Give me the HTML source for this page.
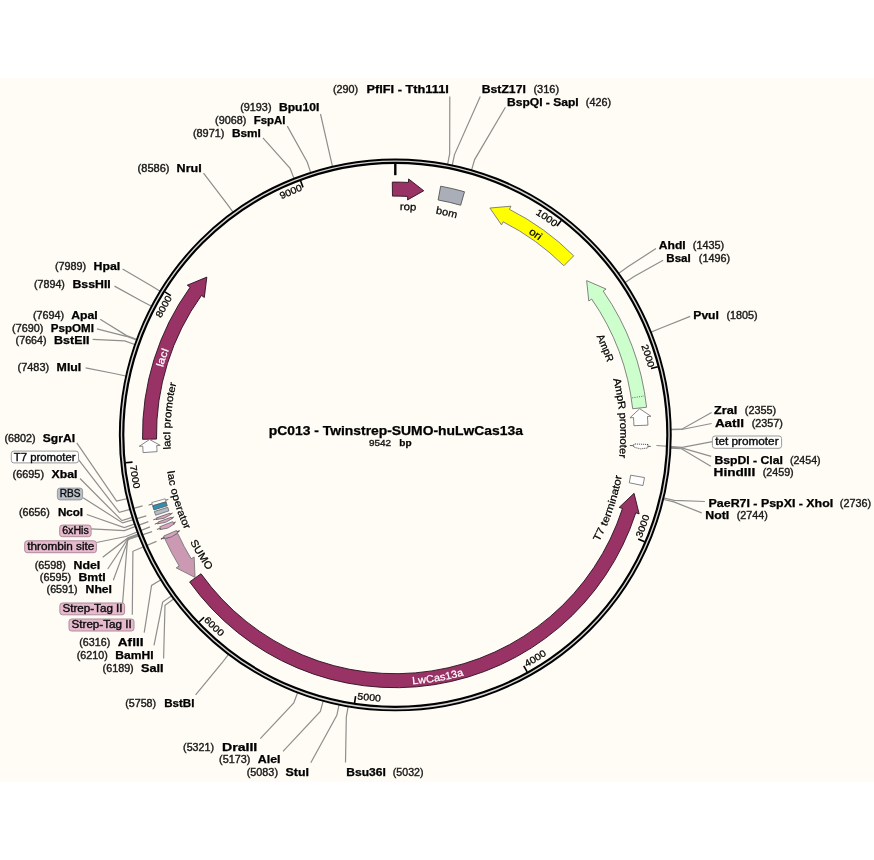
<!DOCTYPE html>
<html><head><meta charset="utf-8"><title>pC013 - Twinstrep-SUMO-huLwCas13a</title>
<style>html,body{margin:0;padding:0;background:#fff;}svg{display:block;will-change:transform;}text{font-family:"Liberation Sans",sans-serif;}</style></head><body>
<svg width="874" height="860" viewBox="0 0 874 860">
<rect x="0" y="0" width="874" height="860" fill="#ffffff"/>
<rect x="0" y="78" width="874" height="704" fill="#fefcf4"/>
<path d="M449.8 96.4 L449.68 153.61 L447.49 164.9" fill="none" stroke="#8e8e8e" stroke-width="1.2" />
<path d="M320.5 114 L330.04 155.93 L332.66 167.13" fill="none" stroke="#8e8e8e" stroke-width="1.2" />
<path d="M287.3 126.1 L307.32 162.24 L310.85 173.19" fill="none" stroke="#8e8e8e" stroke-width="1.2" />
<path d="M262.9 137.9 L290.1 168.41 L294.32 179.11" fill="none" stroke="#8e8e8e" stroke-width="1.2" />
<path d="M203.5 173.2 L226.62 203.32 L233.4 212.61" fill="none" stroke="#8e8e8e" stroke-width="1.2" />
<path d="M122.6 268.9 L150.78 285.59 L160.59 291.59" fill="none" stroke="#8e8e8e" stroke-width="1.2" />
<path d="M114.5 286.1 L141.92 301.17 L152.09 306.54" fill="none" stroke="#8e8e8e" stroke-width="1.2" />
<path d="M100.2 319.3 L126.56 335.6 L137.35 339.59" fill="none" stroke="#8e8e8e" stroke-width="1.2" />
<path d="M96.9 328.8 L126.3 336.31 L137.1 340.27" fill="none" stroke="#8e8e8e" stroke-width="1.2" />
<path d="M92.6 339.4 L124.65 340.93 L135.51 344.7" fill="none" stroke="#8e8e8e" stroke-width="1.2" />
<path d="M85.6 367.9 L115.4 373.78 L126.63 376.23" fill="none" stroke="#8e8e8e" stroke-width="1.2" />
<path d="M76.8 442.8 L116.57 501.17 L127.76 498.51" fill="none" stroke="#8e8e8e" stroke-width="1.2" />
<path d="M80 478.5 L121.93 520.63 L132.9 517.19" fill="none" stroke="#8e8e8e" stroke-width="1.2" />
<path d="M86.8 514.5 L124.22 527.62 L135.1 523.9" fill="none" stroke="#8e8e8e" stroke-width="1.2" />
<path d="M102.7 557.2 L127.96 537.9 L138.69 533.77" fill="none" stroke="#8e8e8e" stroke-width="1.2" />
<path d="M107.7 569 L128.16 538.43 L138.88 534.28" fill="none" stroke="#8e8e8e" stroke-width="1.2" />
<path d="M113.3 580.3 L128.43 539.14 L139.15 534.95" fill="none" stroke="#8e8e8e" stroke-width="1.2" />
<path d="M144.2 632.7 L151.57 585.49 L161.35 579.45" fill="none" stroke="#8e8e8e" stroke-width="1.2" />
<path d="M154 645.3 L162.67 602.12 L172 595.41" fill="none" stroke="#8e8e8e" stroke-width="1.2" />
<path d="M163.6 658.4 L165 605.32 L174.24 598.48" fill="none" stroke="#8e8e8e" stroke-width="1.2" />
<path d="M195.6 694.9 L221.93 662.99 L228.89 653.84" fill="none" stroke="#8e8e8e" stroke-width="1.2" />
<path d="M260.3 738.7 L293.79 702.82 L297.87 692.06" fill="none" stroke="#8e8e8e" stroke-width="1.2" />
<path d="M283 751.3 L320.34 711.42 L323.35 700.32" fill="none" stroke="#8e8e8e" stroke-width="1.2" />
<path d="M310.8 762.8 L336.85 715.38 L339.2 704.12" fill="none" stroke="#8e8e8e" stroke-width="1.2" />
<path d="M480.3 96.4 L454.49 154.58 L452.11 165.83" fill="none" stroke="#8e8e8e" stroke-width="1.2" />
<path d="M505.4 107.2 L474.62 159.6 L471.43 170.65" fill="none" stroke="#8e8e8e" stroke-width="1.2" />
<path d="M656 248.5 L627.49 267.06 L618.17 273.8" fill="none" stroke="#8e8e8e" stroke-width="1.2" />
<path d="M663.1 260.3 L634.05 276.52 L624.46 282.88" fill="none" stroke="#8e8e8e" stroke-width="1.2" />
<path d="M690.2 316.4 L661.12 328.03 L650.45 332.32" fill="none" stroke="#8e8e8e" stroke-width="1.2" />
<path d="M711.6 412.5 L681.74 429.15 L670.24 429.38" fill="none" stroke="#8e8e8e" stroke-width="1.2" />
<path d="M711.6 423.5 L681.75 429.52 L670.25 429.74" fill="none" stroke="#8e8e8e" stroke-width="1.2" />
<path d="M711.2 456.3 L681.51 447.82 L670.02 447.3" fill="none" stroke="#8e8e8e" stroke-width="1.2" />
<path d="M710.8 466.2 L681.46 448.76 L669.98 448.2" fill="none" stroke="#8e8e8e" stroke-width="1.2" />
<path d="M704.9 501.5 L674.2 500.44 L663.01 497.81" fill="none" stroke="#8e8e8e" stroke-width="1.2" />
<path d="M701.7 512.9 L673.85 501.91 L662.67 499.22" fill="none" stroke="#8e8e8e" stroke-width="1.2" />
<path d="M345.5 762.6 L346.3 717.18 L348.27 705.85" fill="none" stroke="#8e8e8e" stroke-width="1.2" />
<path d="M78.5 459.7 L119.3 512.4 L142.6 505.9" fill="none" stroke="#8e8e8e" stroke-width="1.2" />
<path d="M83.1 497.7 L122.6 522.9 L146.3 515.9" fill="none" stroke="#8e8e8e" stroke-width="1.2" />
<path d="M91.1 528.9 L124.4 530.6 L148.4 521.6" fill="none" stroke="#8e8e8e" stroke-width="1.2" />
<path d="M96.4 542.5 L125.9 536.5 L150 526.9" fill="none" stroke="#8e8e8e" stroke-width="1.2" />
<path d="M122.6 603 L127.5 539.6 L152.1 531.6" fill="none" stroke="#8e8e8e" stroke-width="1.2" />
<path d="M132.3 614.8 L132.9 551.3 L156.5 541.4" fill="none" stroke="#8e8e8e" stroke-width="1.2" />
<path d="M712.4 441.6 L682.3 447.4 L656.4 445.5" fill="none" stroke="#8e8e8e" stroke-width="1.2" />
<circle cx="395.3" cy="434.9" r="273.7" fill="none" stroke="#000" stroke-width="5.5"/>
<circle cx="395.3" cy="434.9" r="273.8" fill="none" stroke="#d4d4d4" stroke-width="1.4"/>
<path d="M561.25 220.4 L556.97 225.94" fill="none" stroke="#000" stroke-width="1.6" />
<path d="M657.81 366.79 L651.03 368.55" fill="none" stroke="#000" stroke-width="1.6" />
<path d="M644.6 541.67 L638.16 538.91" fill="none" stroke="#000" stroke-width="1.6" />
<path d="M527.15 671.89 L523.74 665.78" fill="none" stroke="#000" stroke-width="1.6" />
<path d="M354.56 703.02 L355.61 696.1" fill="none" stroke="#000" stroke-width="1.6" />
<path d="M199.01 622.04 L204.08 617.21" fill="none" stroke="#000" stroke-width="1.6" />
<path d="M125.54 462.8 L132.5 462.08" fill="none" stroke="#000" stroke-width="1.6" />
<path d="M164.87 291.89 L170.82 295.59" fill="none" stroke="#000" stroke-width="1.6" />
<path d="M300.55 180.79 L303 187.35" fill="none" stroke="#000" stroke-width="1.6" />
<path d="M395.3 163.7 L395.3 175.2" fill="none" stroke="#000" stroke-width="2.4" />
<g font-size="9.5" fill="#000" stroke="#000" stroke-width="0.25">
<text transform="translate(537.82 215.53) rotate(33.01) scale(1.11 1)" text-anchor="middle">1</text>
<text transform="translate(542.62 218.73) rotate(34.27) scale(1.11 1)" text-anchor="middle">0</text>
<text transform="translate(547.36 222.03) rotate(35.54) scale(1.11 1)" text-anchor="middle">0</text>
<text transform="translate(552.02 225.44) rotate(36.8) scale(1.11 1)" text-anchor="middle">0</text>
</g>
<g font-size="9.5" fill="#000" stroke="#000" stroke-width="0.25">
<text transform="translate(642.26 348.6) rotate(70.74) scale(1.11 1)" text-anchor="middle">2</text>
<text transform="translate(644.1 354.07) rotate(72) scale(1.11 1)" text-anchor="middle">0</text>
<text transform="translate(645.82 359.58) rotate(73.27) scale(1.11 1)" text-anchor="middle">0</text>
<text transform="translate(647.42 365.13) rotate(74.53) scale(1.11 1)" text-anchor="middle">0</text>
</g>
<g font-size="9.5" fill="#000" stroke="#000" stroke-width="0.25">
<text transform="translate(642.61 535.52) rotate(292.14) scale(1.11 1)" text-anchor="middle">3</text>
<text transform="translate(644.79 530.01) rotate(290.87) scale(1.11 1)" text-anchor="middle">0</text>
<text transform="translate(646.84 524.45) rotate(289.6) scale(1.11 1)" text-anchor="middle">0</text>
<text transform="translate(648.76 518.84) rotate(288.32) scale(1.11 1)" text-anchor="middle">0</text>
</g>
<g font-size="9.5" fill="#000" stroke="#000" stroke-width="0.25">
<text transform="translate(529.34 665.82) rotate(329.87) scale(1.11 1)" text-anchor="middle">4</text>
<text transform="translate(534.43 662.79) rotate(328.6) scale(1.11 1)" text-anchor="middle">0</text>
<text transform="translate(539.45 659.64) rotate(327.32) scale(1.11 1)" text-anchor="middle">0</text>
<text transform="translate(544.4 656.39) rotate(326.05) scale(1.11 1)" text-anchor="middle">0</text>
</g>
<g font-size="9.5" fill="#000" stroke="#000" stroke-width="0.25">
<text transform="translate(360.01 699.56) rotate(367.59) scale(1.11 1)" text-anchor="middle">5</text>
<text transform="translate(365.89 700.28) rotate(366.32) scale(1.11 1)" text-anchor="middle">0</text>
<text transform="translate(371.79 700.86) rotate(365.05) scale(1.11 1)" text-anchor="middle">0</text>
<text transform="translate(377.7 701.32) rotate(363.78) scale(1.11 1)" text-anchor="middle">0</text>
</g>
<g font-size="9.5" fill="#000" stroke="#000" stroke-width="0.25">
<text transform="translate(205.44 622.63) rotate(405.32) scale(1.11 1)" text-anchor="middle">6</text>
<text transform="translate(209.65 626.8) rotate(404.05) scale(1.11 1)" text-anchor="middle">0</text>
<text transform="translate(213.96 630.87) rotate(402.78) scale(1.11 1)" text-anchor="middle">0</text>
<text transform="translate(218.35 634.85) rotate(401.51) scale(1.11 1)" text-anchor="middle">0</text>
</g>
<g font-size="9.5" fill="#000" stroke="#000" stroke-width="0.25">
<text transform="translate(130.44 468.62) rotate(442.74) scale(1.11 1)" text-anchor="middle">7</text>
<text transform="translate(131.25 474.49) rotate(441.47) scale(1.11 1)" text-anchor="middle">0</text>
<text transform="translate(132.2 480.34) rotate(440.2) scale(1.11 1)" text-anchor="middle">0</text>
<text transform="translate(133.27 486.17) rotate(438.93) scale(1.11 1)" text-anchor="middle">0</text>
</g>
<g font-size="9.5" fill="#000" stroke="#000" stroke-width="0.25">
<text transform="translate(162.43 315.71) rotate(297.11) scale(1.11 1)" text-anchor="middle">8</text>
<text transform="translate(165.12 310.6) rotate(298.37) scale(1.11 1)" text-anchor="middle">0</text>
<text transform="translate(167.92 305.55) rotate(299.63) scale(1.11 1)" text-anchor="middle">0</text>
<text transform="translate(170.83 300.56) rotate(300.9) scale(1.11 1)" text-anchor="middle">0</text>
</g>
<g font-size="9.5" fill="#000" stroke="#000" stroke-width="0.25">
<text transform="translate(284.05 198.13) rotate(334.83) scale(1.11 1)" text-anchor="middle">9</text>
<text transform="translate(289.31 195.73) rotate(336.1) scale(1.11 1)" text-anchor="middle">0</text>
<text transform="translate(294.61 193.45) rotate(337.36) scale(1.11 1)" text-anchor="middle">0</text>
<text transform="translate(299.97 191.29) rotate(338.63) scale(1.11 1)" text-anchor="middle">0</text>
</g>
<path d="M189.64 581.91 A252.8 252.8 0 0 0 635.8 512.8 L639.13 513.88 L634.05 493.33 L619.15 507.41 L622.48 508.49 A238.8 238.8 0 0 1 201.03 573.77 Z" fill="#993366" stroke="#2a1020" stroke-width="0.9" stroke-linejoin="miter" />
<path d="M142.54 439.31 A252.8 252.8 0 0 1 190.11 287.24 L187.27 285.2 L206.83 277.12 L204.31 297.46 L201.47 295.42 A238.8 238.8 0 0 0 156.54 439.07 Z" fill="#993366" stroke="#2a1020" stroke-width="0.9" stroke-linejoin="miter" />
<path d="M392.3 182.12 A252.8 252.8 0 0 1 408.44 182.44 L408.63 178.95 L423.72 190.75 L407.53 199.92 L407.72 196.42 A238.8 238.8 0 0 0 392.47 196.12 Z" fill="#993366" stroke="#2a1020" stroke-width="0.9" stroke-linejoin="miter" />
<path d="M440.66 186.2 A252.8 252.8 0 0 1 464.49 191.75 L460.66 205.22 A238.8 238.8 0 0 0 438.15 199.98 Z" fill="#a9aeb9" stroke="#555" stroke-width="0.9" />
<path d="M573.73 255.82 A252.8 252.8 0 0 0 509.41 209.32 L510.99 206.2 L489.91 208.04 L501.51 224.93 L503.09 221.81 A238.8 238.8 0 0 1 563.85 265.74 Z" fill="#ffff00" stroke="#777" stroke-width="0.9" stroke-linejoin="miter" />
<path d="M646.58 407.24 A252.8 252.8 0 0 0 603.18 291.05 L606.06 289.06 L586.65 280.62 L588.79 301.01 L591.67 299.01 A238.8 238.8 0 0 1 632.67 408.77 Z" fill="#ccffcc" stroke="#777" stroke-width="0.9" stroke-linejoin="miter" />
<path d="M632.22 397.86 L644.08 396.01" fill="none" stroke="#444" stroke-width="0.8" stroke-dasharray="1 1.3"/>
<path d="M647.91 425.16 A252.8 252.8 0 0 0 647.43 416.52 L650.92 416.27 L639.69 408.65 L629.98 417.79 L633.47 417.54 A238.8 238.8 0 0 1 633.92 425.7 Z" fill="#ffffff" stroke="#777" stroke-width="0.9" stroke-linejoin="miter" />
<path d="M143.12 452.61 A252.8 252.8 0 0 1 142.75 446.13 L139.25 446.29 L149.54 439.51 L160.23 445.35 L156.74 445.51 A238.8 238.8 0 0 0 157.09 451.63 Z" fill="#ffffff" stroke="#777" stroke-width="0.9" stroke-linejoin="miter" />
<path d="M644.47 477.56 A252.8 252.8 0 0 1 642.97 485.58 L629.25 482.77 A238.8 238.8 0 0 0 630.68 475.2 Z" fill="#ffffff" stroke="#777" stroke-width="0.9" />
<path d="M165.06 539.3 A252.8 252.8 0 0 0 179.18 566.04 L176.19 567.86 L195.05 577.45 L194.14 556.97 L191.15 558.78 A238.8 238.8 0 0 1 177.81 533.52 Z" fill="#cc99b3" stroke="#777" stroke-width="0.9" stroke-linejoin="miter" />
<path d="M629.86 445.49 L650.84 446.43" fill="none" stroke="#555" stroke-width="0.9" />
<path d="M647.92 444.47 A252.8 252.8 0 0 1 647.76 447.96 L647.76 447.96 L640.7 448.89 L633.78 447.23 L633.78 447.23 A238.8 238.8 0 0 0 633.93 443.94 Z" fill="#ffffff" stroke="#111" stroke-width="0.8" stroke-linejoin="miter" stroke-dasharray="1 1"/>
<path d="M168.31 499.49 L148.59 505.1" fill="none" stroke="#555" stroke-width="0.9" />
<path d="M152.59 505.61 A252.8 252.8 0 0 1 151.72 502.56 L165.21 498.82 A238.8 238.8 0 0 0 166.03 501.69 Z" fill="#ffffff" stroke="#777" stroke-width="0.8" />
<path d="M153.88 509.91 A252.8 252.8 0 0 1 152.68 505.93 L166.12 501.99 A238.8 238.8 0 0 0 167.25 505.76 Z" fill="#2c92b3" stroke="#555" stroke-width="0.8" />
<path d="M155.62 515.3 A252.8 252.8 0 0 1 154.38 511.5 L167.73 507.26 A238.8 238.8 0 0 0 168.9 510.84 Z" fill="#b5bbc7" stroke="#666" stroke-width="0.8" />
<path d="M172.61 513.04 L153.27 519.83" fill="none" stroke="#555" stroke-width="0.9" />
<path d="M156.48 517.82 A252.8 252.8 0 0 0 156.98 519.23 L155.85 519.63 L164.07 518.27 L171.31 514.16 L170.18 514.56 A238.8 238.8 0 0 1 169.71 513.22 Z" fill="#d9a3c1" stroke="#666" stroke-width="0.8" stroke-linejoin="miter" />
<path d="M174.04 516.99 L154.82 524.12" fill="none" stroke="#555" stroke-width="0.9" />
<path d="M158 522.05 A252.8 252.8 0 0 0 158.52 523.45 L157.39 523.87 L165.59 522.36 L172.75 518.13 L171.63 518.55 A238.8 238.8 0 0 1 171.14 517.22 Z" fill="#d9a3c1" stroke="#666" stroke-width="0.8" stroke-linejoin="miter" />
<path d="M175.93 521.92 L156.87 529.48" fill="none" stroke="#555" stroke-width="0.9" />
<path d="M159.76 526.72 A252.8 252.8 0 0 0 160.75 529.21 L159.64 529.66 L167.85 528.08 L174.85 523.54 L173.74 523.99 A238.8 238.8 0 0 1 172.81 521.63 Z" fill="#d9a3c1" stroke="#666" stroke-width="0.8" stroke-linejoin="miter" />
<path d="M179.73 530.94 L161 539.28" fill="none" stroke="#555" stroke-width="0.9" />
<path d="M179.54 530.52 L160.8 538.82" fill="none" stroke="#555" stroke-width="0.9" />
<path d="M163.64 536.1 A252.8 252.8 0 0 0 164.59 538.25 L163.5 538.74 L171.64 536.85 L178.46 532.04 L177.37 532.53 A238.8 238.8 0 0 1 176.47 530.5 Z" fill="#d9a3c1" stroke="#666" stroke-width="0.8" stroke-linejoin="miter" />
<g font-size="10.4" fill="#000" stroke="#000" stroke-width="0.25">
<text transform="translate(401.61 209.99) rotate(1.61) scale(1.1 1)" text-anchor="middle">r</text>
<text transform="translate(406.63 210.19) rotate(2.89) scale(1.1 1)" text-anchor="middle">o</text>
<text transform="translate(412.9 210.59) rotate(4.49) scale(1.1 1)" text-anchor="middle">p</text>
</g>
<g font-size="10.4" fill="#000" stroke="#000" stroke-width="0.25">
<text transform="translate(438.59 214.1) rotate(11.09) scale(1.06 1)" text-anchor="middle">b</text>
<text transform="translate(444.51 215.35) rotate(12.63) scale(1.06 1)" text-anchor="middle">o</text>
<text transform="translate(451.85 217.12) rotate(14.56) scale(1.06 1)" text-anchor="middle">m</text>
</g>
<g font-size="10.4" fill="#000" stroke="#000" stroke-width="0.25">
<text transform="translate(530.89 234.94) rotate(34.14) scale(1.12 1)" text-anchor="middle">o</text>
<text transform="translate(535.1 237.85) rotate(35.35) scale(1.12 1)" text-anchor="middle">r</text>
<text transform="translate(537.69 239.72) rotate(36.11) scale(1.12 1)" text-anchor="middle">i</text>
</g>
<g font-size="10.4" fill="#000" stroke="#000" stroke-width="0.25">
<text transform="translate(597.92 339.39) rotate(64.76) scale(1 1)" text-anchor="middle">A</text>
<text transform="translate(601.08 346.41) rotate(66.73) scale(1 1)" text-anchor="middle">m</text>
<text transform="translate(603.79 353) rotate(68.55) scale(1 1)" text-anchor="middle">p</text>
<text transform="translate(606.1 359.14) rotate(70.23) scale(1 1)" text-anchor="middle">R</text>
</g>
<g font-size="10.4" fill="#000" stroke="#000" stroke-width="0.25">
<text transform="translate(614.15 382.67) rotate(76.58) scale(1.1 1)" text-anchor="middle">A</text>
<text transform="translate(615.96 390.9) rotate(78.72) scale(1.1 1)" text-anchor="middle">m</text>
<text transform="translate(617.35 398.58) rotate(80.71) scale(1.1 1)" text-anchor="middle">p</text>
<text transform="translate(618.39 405.68) rotate(82.54) scale(1.1 1)" text-anchor="middle">R</text>
<text transform="translate(619.5 415.92) rotate(85.16) scale(1.1 1)" text-anchor="middle">p</text>
<text transform="translate(619.86 420.9) rotate(86.43) scale(1.1 1)" text-anchor="middle">r</text>
<text transform="translate(620.12 425.89) rotate(87.7) scale(1.1 1)" text-anchor="middle">o</text>
<text transform="translate(620.3 433.69) rotate(89.69) scale(1.1 1)" text-anchor="middle">m</text>
<text transform="translate(620.2 441.49) rotate(91.68) scale(1.1 1)" text-anchor="middle">o</text>
<text transform="translate(620.02 446.17) rotate(92.87) scale(1.1 1)" text-anchor="middle">t</text>
<text transform="translate(619.73 450.85) rotate(94.06) scale(1.1 1)" text-anchor="middle">e</text>
<text transform="translate(619.32 455.82) rotate(95.34) scale(1.1 1)" text-anchor="middle">r</text>
</g>
<g font-size="10.4" fill="#000" stroke="#000" stroke-width="0.25">
<text transform="translate(600.71 538.81) rotate(296.83) scale(1.12 1)" text-anchor="middle">T</text>
<text transform="translate(603.73 532.62) rotate(295.12) scale(1.12 1)" text-anchor="middle">7</text>
<text transform="translate(607.08 525.14) rotate(293.08) scale(1.12 1)" text-anchor="middle">t</text>
<text transform="translate(608.96 520.59) rotate(291.85) scale(1.12 1)" text-anchor="middle">e</text>
<text transform="translate(610.85 515.7) rotate(290.55) scale(1.12 1)" text-anchor="middle">r</text>
<text transform="translate(613.17 509.23) rotate(288.84) scale(1.12 1)" text-anchor="middle">m</text>
<text transform="translate(615.1 503.31) rotate(287.29) scale(1.12 1)" text-anchor="middle">i</text>
<text transform="translate(616.42 498.92) rotate(286.15) scale(1.12 1)" text-anchor="middle">n</text>
<text transform="translate(618.15 492.59) rotate(284.51) scale(1.12 1)" text-anchor="middle">a</text>
<text transform="translate(619.34 487.82) rotate(283.29) scale(1.12 1)" text-anchor="middle">t</text>
<text transform="translate(620.41 483.02) rotate(282.07) scale(1.12 1)" text-anchor="middle">o</text>
<text transform="translate(621.45 477.88) rotate(280.76) scale(1.12 1)" text-anchor="middle">r</text>
</g>
<g font-size="10.4" fill="#fff" stroke="#fff" stroke-width="0.25">
<text transform="translate(415.46 684.09) rotate(355.37) scale(1.05 1)" text-anchor="middle">L</text>
<text transform="translate(422.52 683.41) rotate(353.75) scale(1.05 1)" text-anchor="middle">w</text>
<text transform="translate(430.46 682.42) rotate(351.91) scale(1.05 1)" text-anchor="middle">C</text>
<text transform="translate(437.46 681.32) rotate(350.29) scale(1.05 1)" text-anchor="middle">a</text>
<text transform="translate(443.22 680.26) rotate(348.95) scale(1.05 1)" text-anchor="middle">s</text>
<text transform="translate(448.95 679.08) rotate(347.61) scale(1.05 1)" text-anchor="middle">1</text>
<text transform="translate(454.96 677.68) rotate(346.19) scale(1.05 1)" text-anchor="middle">3</text>
<text transform="translate(460.93 676.13) rotate(344.78) scale(1.05 1)" text-anchor="middle">a</text>
</g>
<g font-size="10.4" fill="#000" stroke="#000" stroke-width="0.25">
<text transform="translate(191.8 545.26) rotate(421.53) scale(1.06 1)" text-anchor="middle">S</text>
<text transform="translate(195.62 552.03) rotate(419.61) scale(1.06 1)" text-anchor="middle">U</text>
<text transform="translate(200.15 559.44) rotate(417.45) scale(1.06 1)" text-anchor="middle">M</text>
<text transform="translate(205.15 566.94) rotate(415.23) scale(1.06 1)" text-anchor="middle">O</text>
</g>
<g font-size="10.4" fill="#000" stroke="#000" stroke-width="0.25">
<text transform="translate(167.44 472.85) rotate(440.55) scale(1.09 1)" text-anchor="middle">l</text>
<text transform="translate(168.22 477.27) rotate(439.43) scale(1.09 1)" text-anchor="middle">a</text>
<text transform="translate(169.42 483.25) rotate(437.92) scale(1.09 1)" text-anchor="middle">c</text>
<text transform="translate(171.55 492.31) rotate(435.61) scale(1.09 1)" text-anchor="middle">o</text>
<text transform="translate(173.23 498.51) rotate(434.02) scale(1.09 1)" text-anchor="middle">p</text>
<text transform="translate(175.08 504.66) rotate(432.42) scale(1.09 1)" text-anchor="middle">e</text>
<text transform="translate(176.69 509.54) rotate(431.15) scale(1.09 1)" text-anchor="middle">r</text>
<text transform="translate(178.4 514.38) rotate(429.88) scale(1.09 1)" text-anchor="middle">a</text>
<text transform="translate(180.11 518.88) rotate(428.68) scale(1.09 1)" text-anchor="middle">t</text>
<text transform="translate(181.9 523.35) rotate(427.49) scale(1.09 1)" text-anchor="middle">o</text>
<text transform="translate(183.92 528.07) rotate(426.21) scale(1.09 1)" text-anchor="middle">r</text>
</g>
<g font-size="10.4" fill="#000" stroke="#000" stroke-width="0.25">
<text transform="translate(170.68 447.98) rotate(266.67) scale(1.11 1)" text-anchor="middle">l</text>
<text transform="translate(170.47 443.55) rotate(267.8) scale(1.11 1)" text-anchor="middle">a</text>
<text transform="translate(170.32 437.55) rotate(269.33) scale(1.11 1)" text-anchor="middle">c</text>
<text transform="translate(170.31 433.12) rotate(270.45) scale(1.11 1)" text-anchor="middle">I</text>
<text transform="translate(170.51 425.22) rotate(272.47) scale(1.11 1)" text-anchor="middle">p</text>
<text transform="translate(170.78 420.17) rotate(273.75) scale(1.11 1)" text-anchor="middle">r</text>
<text transform="translate(171.17 415.13) rotate(275.04) scale(1.11 1)" text-anchor="middle">o</text>
<text transform="translate(172 407.27) rotate(277.05) scale(1.11 1)" text-anchor="middle">m</text>
<text transform="translate(173.11 399.44) rotate(279.07) scale(1.11 1)" text-anchor="middle">o</text>
<text transform="translate(173.91 394.77) rotate(280.27) scale(1.11 1)" text-anchor="middle">t</text>
<text transform="translate(174.8 390.11) rotate(281.48) scale(1.11 1)" text-anchor="middle">e</text>
<text transform="translate(175.87 385.16) rotate(282.77) scale(1.11 1)" text-anchor="middle">r</text>
</g>
<g font-size="10.4" fill="#fff" stroke="#fff" stroke-width="0.25">
<text transform="translate(163.27 366.16) rotate(286.5) scale(1.17 1)" text-anchor="middle">l</text>
<text transform="translate(164.64 361.69) rotate(287.61) scale(1.17 1)" text-anchor="middle">a</text>
<text transform="translate(166.64 355.66) rotate(289.11) scale(1.17 1)" text-anchor="middle">c</text>
<text transform="translate(168.21 351.26) rotate(290.22) scale(1.17 1)" text-anchor="middle">I</text>
</g>
<text x="333" y="93" font-size="10" text-anchor="start" fill="#1a1a1a" textLength="25.2" lengthAdjust="spacingAndGlyphs" stroke="#1a1a1a" stroke-width="0.38">(290)</text>
<text x="366.5" y="93" font-size="10" font-weight="bold" text-anchor="start" fill="#000" textLength="82.3" lengthAdjust="spacingAndGlyphs" stroke="#000" stroke-width="0.25">PflFI - Tth111I</text>
<text x="240.2" y="111.4" font-size="10" text-anchor="start" fill="#1a1a1a" textLength="31.3" lengthAdjust="spacingAndGlyphs" stroke="#1a1a1a" stroke-width="0.38">(9193)</text>
<text x="279" y="111.4" font-size="10" font-weight="bold" text-anchor="start" fill="#000" textLength="40.3" lengthAdjust="spacingAndGlyphs" stroke="#000" stroke-width="0.25">Bpu10I</text>
<text x="215.1" y="124" font-size="10" text-anchor="start" fill="#1a1a1a" textLength="31.2" lengthAdjust="spacingAndGlyphs" stroke="#1a1a1a" stroke-width="0.38">(9068)</text>
<text x="253.8" y="124" font-size="10" font-weight="bold" text-anchor="start" fill="#000" textLength="31.7" lengthAdjust="spacingAndGlyphs" stroke="#000" stroke-width="0.25">FspAI</text>
<text x="192.9" y="136.6" font-size="10" text-anchor="start" fill="#1a1a1a" textLength="31.5" lengthAdjust="spacingAndGlyphs" stroke="#1a1a1a" stroke-width="0.38">(8971)</text>
<text x="231.9" y="136.6" font-size="10" font-weight="bold" text-anchor="start" fill="#000" textLength="29" lengthAdjust="spacingAndGlyphs" stroke="#000" stroke-width="0.25">BsmI</text>
<text x="137.6" y="171.8" font-size="10" text-anchor="start" fill="#1a1a1a" textLength="31.9" lengthAdjust="spacingAndGlyphs" stroke="#1a1a1a" stroke-width="0.38">(8586)</text>
<text x="176.6" y="171.8" font-size="10" font-weight="bold" text-anchor="start" fill="#000" textLength="25.1" lengthAdjust="spacingAndGlyphs" stroke="#000" stroke-width="0.25">NruI</text>
<text x="54.9" y="269.8" font-size="10" text-anchor="start" fill="#1a1a1a" textLength="31.2" lengthAdjust="spacingAndGlyphs" stroke="#1a1a1a" stroke-width="0.38">(7989)</text>
<text x="93.6" y="269.8" font-size="10" font-weight="bold" text-anchor="start" fill="#000" textLength="26.7" lengthAdjust="spacingAndGlyphs" stroke="#000" stroke-width="0.25">HpaI</text>
<text x="34" y="287.5" font-size="10" text-anchor="start" fill="#1a1a1a" textLength="30.9" lengthAdjust="spacingAndGlyphs" stroke="#1a1a1a" stroke-width="0.38">(7894)</text>
<text x="72.5" y="287.5" font-size="10" font-weight="bold" text-anchor="start" fill="#000" textLength="38.2" lengthAdjust="spacingAndGlyphs" stroke="#000" stroke-width="0.25">BssHII</text>
<text x="33" y="319.2" font-size="10" text-anchor="start" fill="#1a1a1a" textLength="31.2" lengthAdjust="spacingAndGlyphs" stroke="#1a1a1a" stroke-width="0.38">(7694)</text>
<text x="71.2" y="319.2" font-size="10" font-weight="bold" text-anchor="start" fill="#000" textLength="26.5" lengthAdjust="spacingAndGlyphs" stroke="#000" stroke-width="0.25">ApaI</text>
<text x="12.1" y="331.8" font-size="10" text-anchor="start" fill="#1a1a1a" textLength="31.2" lengthAdjust="spacingAndGlyphs" stroke="#1a1a1a" stroke-width="0.38">(7690)</text>
<text x="50.8" y="331.8" font-size="10" font-weight="bold" text-anchor="start" fill="#000" textLength="43.1" lengthAdjust="spacingAndGlyphs" stroke="#000" stroke-width="0.25">PspOMI</text>
<text x="15.6" y="344.4" font-size="10" text-anchor="start" fill="#1a1a1a" textLength="31" lengthAdjust="spacingAndGlyphs" stroke="#1a1a1a" stroke-width="0.38">(7664)</text>
<text x="54.1" y="344.4" font-size="10" font-weight="bold" text-anchor="start" fill="#000" textLength="35.3" lengthAdjust="spacingAndGlyphs" stroke="#000" stroke-width="0.25">BstEII</text>
<text x="17.6" y="371.3" font-size="10" text-anchor="start" fill="#1a1a1a" textLength="31.5" lengthAdjust="spacingAndGlyphs" stroke="#1a1a1a" stroke-width="0.38">(7483)</text>
<text x="56.6" y="371.3" font-size="10" font-weight="bold" text-anchor="start" fill="#000" textLength="24.7" lengthAdjust="spacingAndGlyphs" stroke="#000" stroke-width="0.25">MluI</text>
<text x="4.5" y="441.9" font-size="10" text-anchor="start" fill="#1a1a1a" textLength="31.2" lengthAdjust="spacingAndGlyphs" stroke="#1a1a1a" stroke-width="0.38">(6802)</text>
<text x="42.8" y="441.9" font-size="10" font-weight="bold" text-anchor="start" fill="#000" textLength="32.2" lengthAdjust="spacingAndGlyphs" stroke="#000" stroke-width="0.25">SgrAI</text>
<text x="12.6" y="478.4" font-size="10" text-anchor="start" fill="#1a1a1a" textLength="31.4" lengthAdjust="spacingAndGlyphs" stroke="#1a1a1a" stroke-width="0.38">(6695)</text>
<text x="51.6" y="478.4" font-size="10" font-weight="bold" text-anchor="start" fill="#000" textLength="25.9" lengthAdjust="spacingAndGlyphs" stroke="#000" stroke-width="0.25">XbaI</text>
<text x="18.9" y="515.7" font-size="10" text-anchor="start" fill="#1a1a1a" textLength="30.9" lengthAdjust="spacingAndGlyphs" stroke="#1a1a1a" stroke-width="0.38">(6656)</text>
<text x="57.9" y="515.7" font-size="10" font-weight="bold" text-anchor="start" fill="#000" textLength="25.2" lengthAdjust="spacingAndGlyphs" stroke="#000" stroke-width="0.25">NcoI</text>
<text x="34.7" y="568.7" font-size="10" text-anchor="start" fill="#1a1a1a" textLength="31.2" lengthAdjust="spacingAndGlyphs" stroke="#1a1a1a" stroke-width="0.38">(6598)</text>
<text x="73.5" y="568.7" font-size="10" font-weight="bold" text-anchor="start" fill="#000" textLength="26.7" lengthAdjust="spacingAndGlyphs" stroke="#000" stroke-width="0.25">NdeI</text>
<text x="39.8" y="580.7" font-size="10" text-anchor="start" fill="#1a1a1a" textLength="31.2" lengthAdjust="spacingAndGlyphs" stroke="#1a1a1a" stroke-width="0.38">(6595)</text>
<text x="78.5" y="580.7" font-size="10" font-weight="bold" text-anchor="start" fill="#000" textLength="27.2" lengthAdjust="spacingAndGlyphs" stroke="#000" stroke-width="0.25">BmtI</text>
<text x="46.6" y="593.3" font-size="10" text-anchor="start" fill="#1a1a1a" textLength="30.9" lengthAdjust="spacingAndGlyphs" stroke="#1a1a1a" stroke-width="0.38">(6591)</text>
<text x="85.6" y="593.3" font-size="10" font-weight="bold" text-anchor="start" fill="#000" textLength="26.4" lengthAdjust="spacingAndGlyphs" stroke="#000" stroke-width="0.25">NheI</text>
<text x="79.3" y="646.2" font-size="10" text-anchor="start" fill="#1a1a1a" textLength="30.9" lengthAdjust="spacingAndGlyphs" stroke="#1a1a1a" stroke-width="0.38">(6316)</text>
<text x="117.8" y="646.2" font-size="10" font-weight="bold" text-anchor="start" fill="#000" textLength="25.7" lengthAdjust="spacingAndGlyphs" stroke="#000" stroke-width="0.25">AflII</text>
<text x="76.8" y="658.8" font-size="10" text-anchor="start" fill="#1a1a1a" textLength="30.9" lengthAdjust="spacingAndGlyphs" stroke="#1a1a1a" stroke-width="0.38">(6210)</text>
<text x="115.3" y="658.8" font-size="10" font-weight="bold" text-anchor="start" fill="#000" textLength="38.2" lengthAdjust="spacingAndGlyphs" stroke="#000" stroke-width="0.25">BamHI</text>
<text x="102.6" y="671.6" font-size="10" text-anchor="start" fill="#1a1a1a" textLength="31.1" lengthAdjust="spacingAndGlyphs" stroke="#1a1a1a" stroke-width="0.38">(6189)</text>
<text x="141" y="671.6" font-size="10" font-weight="bold" text-anchor="start" fill="#000" textLength="22.5" lengthAdjust="spacingAndGlyphs" stroke="#000" stroke-width="0.25">SalI</text>
<text x="125.2" y="707.1" font-size="10" text-anchor="start" fill="#1a1a1a" textLength="30.9" lengthAdjust="spacingAndGlyphs" stroke="#1a1a1a" stroke-width="0.38">(5758)</text>
<text x="164.2" y="707.1" font-size="10" font-weight="bold" text-anchor="start" fill="#000" textLength="30.2" lengthAdjust="spacingAndGlyphs" stroke="#000" stroke-width="0.25">BstBI</text>
<text x="183.1" y="750.6" font-size="10" text-anchor="start" fill="#1a1a1a" textLength="30.9" lengthAdjust="spacingAndGlyphs" stroke="#1a1a1a" stroke-width="0.38">(5321)</text>
<text x="222.1" y="750.6" font-size="10" font-weight="bold" text-anchor="start" fill="#000" textLength="35.2" lengthAdjust="spacingAndGlyphs" stroke="#000" stroke-width="0.25">DraIII</text>
<text x="219.1" y="763.2" font-size="10" text-anchor="start" fill="#1a1a1a" textLength="31.2" lengthAdjust="spacingAndGlyphs" stroke="#1a1a1a" stroke-width="0.38">(5173)</text>
<text x="257.8" y="763.2" font-size="10" font-weight="bold" text-anchor="start" fill="#000" textLength="22.7" lengthAdjust="spacingAndGlyphs" stroke="#000" stroke-width="0.25">AleI</text>
<text x="246.7" y="775.8" font-size="10" text-anchor="start" fill="#1a1a1a" textLength="31.3" lengthAdjust="spacingAndGlyphs" stroke="#1a1a1a" stroke-width="0.38">(5083)</text>
<text x="285.5" y="775.8" font-size="10" font-weight="bold" text-anchor="start" fill="#000" textLength="23.4" lengthAdjust="spacingAndGlyphs" stroke="#000" stroke-width="0.25">StuI</text>
<text x="481.8" y="93" font-size="10" font-weight="bold" text-anchor="start" fill="#000" textLength="44" lengthAdjust="spacingAndGlyphs" stroke="#000" stroke-width="0.25">BstZ17I</text>
<text x="533.4" y="93" font-size="10" text-anchor="start" fill="#1a1a1a" textLength="25.7" lengthAdjust="spacingAndGlyphs" stroke="#1a1a1a" stroke-width="0.38">(316)</text>
<text x="507" y="105.6" font-size="10" font-weight="bold" text-anchor="start" fill="#000" textLength="71.7" lengthAdjust="spacingAndGlyphs" stroke="#000" stroke-width="0.25">BspQI - SapI</text>
<text x="585.8" y="105.6" font-size="10" text-anchor="start" fill="#1a1a1a" textLength="25.2" lengthAdjust="spacingAndGlyphs" stroke="#1a1a1a" stroke-width="0.38">(426)</text>
<text x="658.8" y="249.3" font-size="10" font-weight="bold" text-anchor="start" fill="#000" textLength="26.9" lengthAdjust="spacingAndGlyphs" stroke="#000" stroke-width="0.25">AhdI</text>
<text x="692.8" y="249.3" font-size="10" text-anchor="start" fill="#1a1a1a" textLength="31.4" lengthAdjust="spacingAndGlyphs" stroke="#1a1a1a" stroke-width="0.38">(1435)</text>
<text x="666.3" y="261.9" font-size="10" font-weight="bold" text-anchor="start" fill="#000" textLength="24.4" lengthAdjust="spacingAndGlyphs" stroke="#000" stroke-width="0.25">BsaI</text>
<text x="698.8" y="261.9" font-size="10" text-anchor="start" fill="#1a1a1a" textLength="31.2" lengthAdjust="spacingAndGlyphs" stroke="#1a1a1a" stroke-width="0.38">(1496)</text>
<text x="693.3" y="318.6" font-size="10" font-weight="bold" text-anchor="start" fill="#000" textLength="25.6" lengthAdjust="spacingAndGlyphs" stroke="#000" stroke-width="0.25">PvuI</text>
<text x="726.5" y="318.6" font-size="10" text-anchor="start" fill="#1a1a1a" textLength="31.2" lengthAdjust="spacingAndGlyphs" stroke="#1a1a1a" stroke-width="0.38">(1805)</text>
<text x="714.1" y="414" font-size="10" font-weight="bold" text-anchor="start" fill="#000" textLength="23.1" lengthAdjust="spacingAndGlyphs" stroke="#000" stroke-width="0.25">ZraI</text>
<text x="744.8" y="414" font-size="10" text-anchor="start" fill="#1a1a1a" textLength="31.3" lengthAdjust="spacingAndGlyphs" stroke="#1a1a1a" stroke-width="0.38">(2355)</text>
<text x="714.9" y="426.6" font-size="10" font-weight="bold" text-anchor="start" fill="#000" textLength="29.2" lengthAdjust="spacingAndGlyphs" stroke="#000" stroke-width="0.25">AatII</text>
<text x="751.7" y="426.6" font-size="10" text-anchor="start" fill="#1a1a1a" textLength="31.2" lengthAdjust="spacingAndGlyphs" stroke="#1a1a1a" stroke-width="0.38">(2357)</text>
<text x="714.4" y="463.5" font-size="10" font-weight="bold" text-anchor="start" fill="#000" textLength="68.5" lengthAdjust="spacingAndGlyphs" stroke="#000" stroke-width="0.25">BspDI - ClaI</text>
<text x="789.9" y="463.5" font-size="10" text-anchor="start" fill="#1a1a1a" textLength="30.7" lengthAdjust="spacingAndGlyphs" stroke="#1a1a1a" stroke-width="0.38">(2454)</text>
<text x="713.6" y="475.8" font-size="10" font-weight="bold" text-anchor="start" fill="#000" textLength="41.6" lengthAdjust="spacingAndGlyphs" stroke="#000" stroke-width="0.25">HindIII</text>
<text x="762.7" y="475.8" font-size="10" text-anchor="start" fill="#1a1a1a" textLength="31" lengthAdjust="spacingAndGlyphs" stroke="#1a1a1a" stroke-width="0.38">(2459)</text>
<text x="708.6" y="507.1" font-size="10" font-weight="bold" text-anchor="start" fill="#000" textLength="124.6" lengthAdjust="spacingAndGlyphs" stroke="#000" stroke-width="0.25">PaeR7I - PspXI - XhoI</text>
<text x="839.8" y="507.1" font-size="10" text-anchor="start" fill="#1a1a1a" textLength="31.2" lengthAdjust="spacingAndGlyphs" stroke="#1a1a1a" stroke-width="0.38">(2736)</text>
<text x="705.3" y="519.4" font-size="10" font-weight="bold" text-anchor="start" fill="#000" textLength="24" lengthAdjust="spacingAndGlyphs" stroke="#000" stroke-width="0.25">NotI</text>
<text x="736.7" y="519.4" font-size="10" text-anchor="start" fill="#1a1a1a" textLength="31.1" lengthAdjust="spacingAndGlyphs" stroke="#1a1a1a" stroke-width="0.38">(2744)</text>
<text x="346.3" y="775.8" font-size="10" font-weight="bold" text-anchor="start" fill="#000" textLength="39.5" lengthAdjust="spacingAndGlyphs" stroke="#000" stroke-width="0.25">Bsu36I</text>
<text x="392.8" y="775.8" font-size="10" text-anchor="start" fill="#1a1a1a" textLength="30.7" lengthAdjust="spacingAndGlyphs" stroke="#1a1a1a" stroke-width="0.38">(5032)</text>
<rect x="11.3" y="451.1" width="67.2" height="11.8" rx="2.6" ry="2.6" fill="#ffffff" stroke="#9a9a9a" stroke-width="1"/>
<text x="13.8" y="460.7" font-size="10" text-anchor="start" fill="#000" textLength="61.7" lengthAdjust="spacingAndGlyphs" stroke="#1a1a1a" stroke-width="0.38">T7 promoter</text>
<rect x="57.4" y="488.1" width="25.2" height="11.8" rx="2.6" ry="2.6" fill="#b9bfca" stroke="#9a9a9a" stroke-width="1"/>
<text x="59.7" y="497.2" font-size="10" text-anchor="start" fill="#000" textLength="20.8" lengthAdjust="spacingAndGlyphs" stroke="#1a1a1a" stroke-width="0.38">RBS</text>
<rect x="59.7" y="525.1" width="31.4" height="11.6" rx="2.6" ry="2.6" fill="#e6b9cd" stroke="#b08c9c" stroke-width="1"/>
<text x="62.2" y="533.7" font-size="10" text-anchor="start" fill="#000" textLength="26.6" lengthAdjust="spacingAndGlyphs" stroke="#1a1a1a" stroke-width="0.38">6xHis</text>
<rect x="24.7" y="540.8" width="71.7" height="11.9" rx="2.6" ry="2.6" fill="#e6b9cd" stroke="#b08c9c" stroke-width="1"/>
<text x="27.2" y="549.9" font-size="10" text-anchor="start" fill="#000" textLength="67.2" lengthAdjust="spacingAndGlyphs" stroke="#1a1a1a" stroke-width="0.38">thrombin site</text>
<rect x="59.9" y="603" width="64.7" height="11.8" rx="2.6" ry="2.6" fill="#e6b9cd" stroke="#b08c9c" stroke-width="1"/>
<text x="62.4" y="612.1" font-size="10" text-anchor="start" fill="#000" textLength="60.2" lengthAdjust="spacingAndGlyphs" stroke="#1a1a1a" stroke-width="0.38">Strep-Tag II</text>
<rect x="69" y="619" width="65" height="12" rx="2.6" ry="2.6" fill="#e6b9cd" stroke="#b08c9c" stroke-width="1"/>
<text x="71.5" y="628.1" font-size="10" text-anchor="start" fill="#000" textLength="60.2" lengthAdjust="spacingAndGlyphs" stroke="#1a1a1a" stroke-width="0.38">Strep-Tag II</text>
<rect x="712.4" y="436" width="69.2" height="12.3" rx="2.6" ry="2.6" fill="#ffffff" stroke="#9a9a9a" stroke-width="1"/>
<text x="715.2" y="445.2" font-size="10" text-anchor="start" fill="#000" textLength="63.4" lengthAdjust="spacingAndGlyphs" stroke="#1a1a1a" stroke-width="0.38">tet promoter</text>
<text x="268.8" y="435.2" font-size="12" font-weight="bold" text-anchor="start" fill="#000" textLength="254.1" lengthAdjust="spacingAndGlyphs" stroke="#000" stroke-width="0.25">pC013 - Twinstrep-SUMO-huLwCas13a</text>
<text x="368.9" y="446.4" font-size="9.5" text-anchor="start" fill="#1a1a1a" textLength="22.1" lengthAdjust="spacingAndGlyphs" stroke="#1a1a1a" stroke-width="0.38">9542</text>
<text x="399.3" y="446.4" font-size="9.5" font-weight="bold" text-anchor="start" fill="#000" textLength="12.3" lengthAdjust="spacingAndGlyphs" stroke="#000" stroke-width="0.25">bp</text>
</svg></body></html>
